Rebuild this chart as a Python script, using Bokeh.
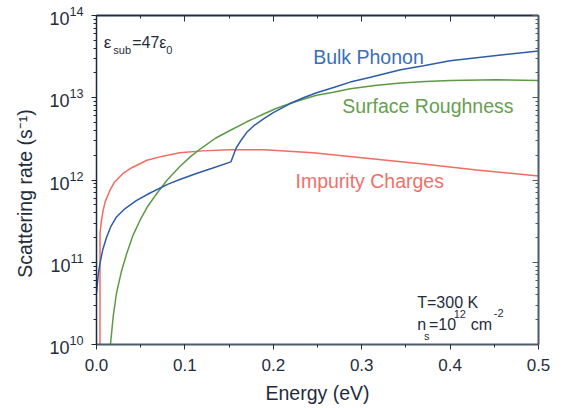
import math
from bokeh.plotting import figure
from bokeh.models import (Range1d, LinearAxis, LogAxis, SingleIntervalTicker, LogTicker,
                          NumeralTickFormatter, CustomJSTickFormatter, Label)
from bokeh.embed import file_html
from bokeh.resources import INLINE

# ---------------- data ----------------
imp_E = [0.0039, 0.0040, 0.0055, 0.0075, 0.010, 0.015, 0.020, 0.030, 0.040, 0.057,
         0.075, 0.094, 0.120, 0.150, 0.190, 0.245, 0.300, 0.367, 0.430, 0.500]
imp_R = [1e9, 2.24e11, 3.16e11, 4.27e11, 5.5e11, 7.41e11, 9.3e11, 1.20e12, 1.41e12,
         1.74e12, 1.95e12, 2.14e12, 2.26e12, 2.34e12, 2.34e12, 2.14e12, 1.86e12,
         1.58e12, 1.32e12, 1.12e12]

bulk_E = [0.0, 0.002, 0.0038, 0.007, 0.0113, 0.016, 0.0226, 0.032, 0.045, 0.060, 0.081,
          0.095, 0.113, 0.130, 0.152, 0.158, 0.164, 0.170, 0.178, 0.1885, 0.200, 0.219,
          0.234, 0.249, 0.270, 0.287, 0.310, 0.344, 0.370, 0.400, 0.450, 0.500]
bulk_R = [4.2e10, 7.1e10, 9.5e10, 1.41e11, 2.0e11, 2.69e11, 3.55e11, 4.47e11, 5.6e11,
          6.9e11, 8.9e11, 1.02e12, 1.2e12, 1.38e12, 1.66e12, 2.45e12, 3.09e12, 3.8e12,
          4.57e12, 5.5e12, 6.6e12, 8.5e12, 1.0e13, 1.15e13, 1.35e13, 1.55e13, 1.78e13,
          2.19e13, 2.45e13, 2.82e13, 3.24e13, 3.7e13]

surf_E = [0.0150, 0.0158, 0.019, 0.0226, 0.028, 0.034, 0.041, 0.049, 0.058, 0.068, 0.080,
          0.094, 0.107, 0.120, 0.135, 0.151, 0.170, 0.1885, 0.203, 0.219, 0.233, 0.249,
          0.268, 0.287, 0.315, 0.344, 0.372, 0.400, 0.4525, 0.500]
surf_R = [7e9, 1.0e10, 2.24e10, 4.2e10, 7.6e10, 1.26e11, 2.09e11, 3.2e11, 4.8e11, 6.8e11,
          1.0e12, 1.45e12, 1.95e12, 2.5e12, 3.24e12, 4.0e12, 5.1e12, 6.3e12, 7.4e12,
          8.5e12, 9.5e12, 1.07e13, 1.17e13, 1.29e13, 1.41e13, 1.51e13, 1.58e13, 1.62e13,
          1.66e13, 1.62e13]

x_min, x_max = 0.0, 0.5
y_min, y_max = 1e10, 1e14

TXT = "#1f2d3d"
FONT = "Liberation Sans"
BLUE, GREEN, RED = "#2d5ca8", "#5e9a45", "#f26a62"
NB = "\u00a0"

p = figure(width=564, height=408, x_range=Range1d(x_min, x_max),
           y_range=Range1d(y_min, y_max), y_axis_type="log",
           output_backend="svg", toolbar_location=None,
           min_border_left=96, min_border_right=26, min_border_top=15,
           min_border_bottom=64)
p.outline_line_color = None
p.grid.visible = False
p.background_fill_color = "white"

xt = SingleIntervalTicker(interval=0.1, num_minor_ticks=2)
yt = LogTicker(desired_num_ticks=5, num_minor_ticks=10)

xa = p.xaxis[0]
xa.ticker = xt
xa.formatter = NumeralTickFormatter(format="0.0")
xa.axis_line_color = "#4d5b6b"
xa.axis_line_width = 2
xa.major_tick_line_color = "#1f2d3d"
xa.minor_tick_line_color = "#1f2d3d"
xa.major_tick_out = 5
xa.major_tick_in = 0
xa.minor_tick_out = 3
xa.minor_tick_in = 0
xa.major_label_text_font = FONT
xa.major_label_text_font_size = "17px"
xa.major_label_text_color = TXT
xa.major_label_standoff = 9
xa.axis_label = "Energy (eV)"
xa.axis_label_text_font = FONT
xa.axis_label_text_font_size = "19.5px"
xa.axis_label_text_font_style = "normal"
xa.axis_label_text_color = TXT
xa.axis_label_standoff = 8

ya = p.yaxis[0]
ya.ticker = yt
ya.axis_line_color = "#1b2b3d"
ya.axis_line_width = 1.5
ya.major_tick_line_color = "#1b2b3d"
ya.minor_tick_line_color = "#1b2b3d"
ya.major_tick_out = 5
ya.major_tick_in = 0
ya.minor_tick_out = 3
ya.minor_tick_in = 0
ya.major_label_text_font = FONT
ya.major_label_text_font_size = "18px"
ya.major_label_text_color = TXT
ya.major_label_standoff = 8
ya.axis_label = "Scattering rate (s⁻¹)" + NB * 5
ya.axis_label_text_font = FONT
ya.axis_label_text_font_size = "19.5px"
ya.axis_label_text_font_style = "normal"
ya.axis_label_text_color = TXT
ya.axis_label_standoff = 10

blank = CustomJSTickFormatter(code="return ''")
top = LinearAxis(ticker=xt, formatter=blank, major_tick_in=6, major_tick_out=0,
                 minor_tick_in=3, minor_tick_out=0, axis_line_color="#1f2f44",
                 axis_line_width=2, major_tick_line_color="#1f2f44",
                 minor_tick_line_color="#1f2f44", major_label_standoff=0,
                 major_label_text_font_size="1px")
p.add_layout(top, "above")
right = LogAxis(ticker=yt, formatter=blank, major_tick_in=6, major_tick_out=0,
                minor_tick_in=3, minor_tick_out=0, axis_line_color="#4d5b6b",
                axis_line_width=2, major_tick_line_color="#4d5b6b",
                minor_tick_line_color="#4d5b6b", major_label_standoff=0,
                major_label_text_font_size="1px")
p.add_layout(right, "right")

p.line(imp_E, imp_R, line_color=RED, line_width=1.5)
p.line(surf_E, surf_R, line_color=GREEN, line_width=1.5)
p.line(bulk_E, bulk_R, line_color=BLUE, line_width=1.5)

SHIFT = 0.073  # decades, text placement correction


def lab(x, logy, text, size, color=TXT, align="left"):
    p.add_layout(Label(x=x, y=10 ** (logy + SHIFT), text=text, text_font=FONT,
                       text_font_size=size, text_color=color, text_align=align,
                       text_baseline="alphabetic"))


# curve labels
lab(0.2451, 13.425, "Bulk Phonon", "19.5px", "#3a6fb8")
lab(0.278, 12.824, "Surface Roughness", "19.5px", "#66a04e")
lab(0.2251, 11.912, "Impurity Charges", "19.5px", "#f0706a")

# epsilon annotation
lab(0.0082, 13.60, "ε", "17px")
lab(0.0190, 13.508, "sub", "11px")
lab(0.0404, 13.60, "=47ε", "16px")
lab(0.0790, 13.508, "0", "11px")

# T and n_s annotation
lab(0.3628, 10.434, "T=300 K", "16px")
lab(0.3628, 10.170, "n", "16px")
lab(0.3705, 10.03, "s", "11px")
lab(0.3760, 10.170, "=10", "16px")
lab(0.4040, 10.30, "12", "11px")
lab(0.4235, 10.170, "cm", "16px")
lab(0.4495, 10.312, "-2", "11px")

open("out.html", "w").write(file_html(p, INLINE))
